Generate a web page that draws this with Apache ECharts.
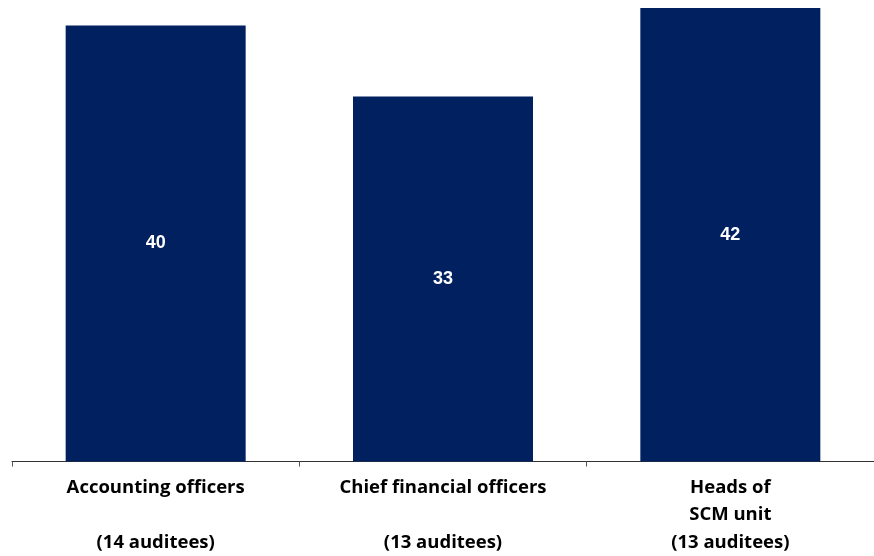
<!DOCTYPE html>
<html><head><meta charset="utf-8">
<script src="https://cdn.jsdelivr.net/npm/echarts@6/dist/echarts.min.js"></script>
<style>html,body{margin:0;padding:0;background:#fff}#c{width:874px;height:556px}</style>
</head><body><div id="c"></div>
<script>
const categories = ["Accounting officers\n\n(14 auditees)", "Chief financial officers\n\n(13 auditees)", "Heads of\nSCM unit\n(13 auditees)"];
const values = [39.9, 33.4, 41.5];

const chart = echarts.init(document.getElementById('c'));
chart.setOption({
  animation: false,
  grid: { left: 12, top: 8, width: 872, height: 457, containLabel: false },
  xAxis: {
    type: 'category',
    data: categories,
    axisLine: { lineStyle: { color: '#333', width: 1 } },
    axisTick: { show: true, length: 5, lineStyle: { color: '#555' } },
    axisLabel: { interval: 0, margin: 12, color: '#000', fontFamily: 'Open Sans', fontWeight: 'bold', fontSize: 18.5, lineHeight: 27.5 }
  },
  yAxis: { type: 'value', min: 0, max: 41.5, show: false, splitLine: { show: false } },
  series: [{
    type: 'bar',
    data: values,
    barWidth: 180,
    itemStyle: { color: '#002060' },
    label: { show: true, position: 'inside', color: '#fff', fontFamily: 'Liberation Sans', fontWeight: 'bold', fontSize: 18,
      formatter: p => Math.round(p.value) }
  }]
});
</script></body></html>
